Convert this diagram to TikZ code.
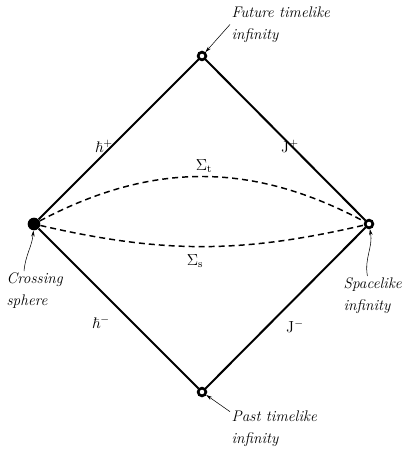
\documentclass[tikz,border=0pt]{standalone}
\usepackage{amsmath,amssymb}
\usepackage{xcolor}
\usepackage{tikz}
\usetikzlibrary{arrows.meta,positioning}

\begin{document}
\begin{tikzpicture}[
        x=0.75pt, y=-0.75pt,
        font=\fontsize{9.5}{14}\selectfont,
        hollow/.style={circle, draw, line width=2pt, minimum size=5.8pt, inner sep=0pt},
        solid/.style={circle, fill, minimum size=9.5pt, inner sep=0pt},
        edge/.style={line width=1.5pt},
        slice/.style={dashed, line width=1.1pt, dash pattern=on 4.5pt off 3pt},
        note/.style={font=\fontsize{11.5}{16.5}\selectfont\itshape, align=left, inner sep=1pt},
        lab/.style={font=\fontsize{11.5}{13}\selectfont, inner sep=0pt},
        pointer/.style={-{Stealth[length=4.5pt, width=2.6pt]}, line width=0.4pt}
    ]
        \useasboundingbox (0,0) rectangle (405,452);
        \node[hollow] (top) at (202,56) {};
        \node[solid] (left) at (34,224) {};
        \node[hollow] (right) at (369,224) {};
        \node[hollow] (bottom) at (202,392) {};
        \draw[edge] (left) -- (top) -- (right) -- (bottom) -- (left);
        \draw[slice] (left) to[bend left=28] (right);
        \draw[slice] (left) to[bend right=13] (right);
        \node[lab] (hp) at (104,146) {$\hbar^{+}$};
        \node[lab] (jp) at (290,146) {$\mathrm{J}^{+}$};
        \node[lab] (hm) at (101,322) {$\hbar^{-}$};
        \node[lab] (jm) at (295,326) {$\mathrm{J}^{-}$};
        \node[lab] (st) at (204,166) {$\Sigma_{\mathrm{t}}$};
        \node[lab] (ss) at (195,261) {$\Sigma_{\mathrm{s}}$};
        \node[note, anchor=north west] (fut) at (230,5) {Future timelike\\infinity};
        \node[note, anchor=north west] (past) at (230,409) {Past timelike\\infinity};
        \node[note, anchor=north west] (cross) at (5,271) {Crossing\\sphere};
        \node[note, anchor=north west] (space) at (342,276) {Spacelike\\infinity};
        \draw[pointer] (fut.west) -- (top);
        \draw[pointer] ([yshift=-2pt]past.north west) -- (bottom);
        \draw[pointer] ([xshift=-8pt]cross.north) to[out=85, in=-95] (left);
        \draw[pointer] ([xshift=-4pt]space.north) to[out=100, in=-80] (right);
    \end{tikzpicture}
\end{document}
